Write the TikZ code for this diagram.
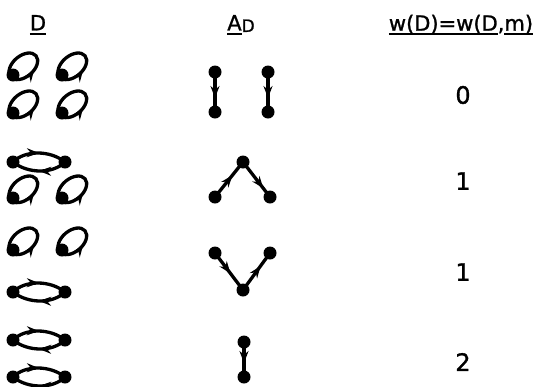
\documentclass[tikz,border=0pt]{standalone}
\usepackage{fontspec}
\setmainfont{DejaVu Sans}[FakeBold=1.2]
\usetikzlibrary{decorations.markings,arrows.meta}
\newsavebox\ulbox
\newcommand\myul[1]{\sbox\ulbox{#1}\rlap{\rule[-4.5pt]{\wd\ulbox}{2pt}}\usebox\ulbox}
\tikzset{
  dot/.style={circle,fill=black,inner sep=0pt,minimum size=13pt},
  lnk/.style={line width=3.3pt},
  marr/.style={postaction={decorate},decoration={markings,
     mark=at position #1 with {\arrow{Stealth[length=12pt,width=9pt,inset=4pt]}}}},
  hdr/.style={inner sep=0pt,font=\fontsize{21}{21}\selectfont},
  num/.style={inner sep=0pt,font=\fontsize{24}{24}\selectfont},
}
\newcommand\dloop[1]{\draw[lnk,marr=0.82,shift={(#1.center)},rotate=40] (13.5,0) ellipse [x radius=16.5,y radius=10.5];}
\newcommand\digon[2]{%
  \draw[lnk,marr=0.5] (#1.center) .. controls +(12,12) and +(-15,12) .. (#2.center);
  \draw[lnk,marr=0.5] (#2.center) .. controls +(-12,-12) and +(15,-12) .. (#1.center);}
\begin{document}
\begin{tikzpicture}[x=1pt,y=1pt]
\useasboundingbox (0,0) rectangle (540,-386);
% headers
\node[hdr] (hD) at (38,-25) {\myul{D}};
\node[hdr] (hA) at (241,-25) {\myul{A}{\fontsize{17}{17}\selectfont\raisebox{-1.5pt}{D}}};
\node[hdr] (hW) at (461,-25) {\myul{w(D)=w(D},\myul{m)}};
% column D
\node[dot] (d11) at (13,-75) {};
\node[dot] (d12) at (62,-75) {};
\node[dot] (d13) at (13,-113) {};
\node[dot] (d14) at (62,-113) {};
\dloop{d11}\dloop{d12}\dloop{d13}\dloop{d14}
\node[dot] (d21) at (13,-162) {};
\node[dot] (d22) at (65,-162) {};
\digon{d21}{d22}
\node[dot] (d23) at (13,-198) {};
\node[dot] (d24) at (62,-198) {};
\dloop{d23}\dloop{d24}
\node[dot] (d31) at (13,-250) {};
\node[dot] (d32) at (62,-250) {};
\dloop{d31}\dloop{d32}
\node[dot] (d33) at (13,-292) {};
\node[dot] (d34) at (65,-292) {};
\digon{d33}{d34}
\node[dot] (d41) at (13,-340) {};
\node[dot] (d42) at (65,-340) {};
\digon{d41}{d42}
\node[dot] (d43) at (13,-377) {};
\node[dot] (d44) at (65,-377) {};
\digon{d43}{d44}
% column A_D
\node[dot] (a11) at (215,-72) {};
\node[dot] (a12) at (215,-112) {};
\node[dot] (a13) at (268,-72) {};
\node[dot] (a14) at (268,-112) {};
\draw[lnk,marr=0.65] (a11.center) -- (a12.center);
\draw[lnk,marr=0.65] (a13.center) -- (a14.center);
\node[dot] (a21) at (243,-162) {};
\node[dot] (a22) at (215,-197) {};
\node[dot] (a23) at (270,-197) {};
\draw[lnk,marr=0.62] (a22.center) -- (a21.center);
\draw[lnk,marr=0.75] (a21.center) -- (a23.center);
\node[dot] (a31) at (215,-253) {};
\node[dot] (a32) at (270,-253) {};
\node[dot] (a33) at (243,-290) {};
\draw[lnk,marr=0.55] (a31.center) -- (a33.center);
\draw[lnk,marr=0.65] (a33.center) -- (a32.center);
\node[dot] (a41) at (244,-342) {};
\node[dot] (a42) at (244,-377) {};
\draw[lnk,marr=0.6] (a41.center) -- (a42.center);
% column w
\node[num] (w1) at (463,-95) {0};
\node[num] (w2) at (463,-181) {1};
\node[num] (w3) at (463,-272) {1};
\node[num] (w4) at (463,-362) {2};
\end{tikzpicture}
\end{document}
